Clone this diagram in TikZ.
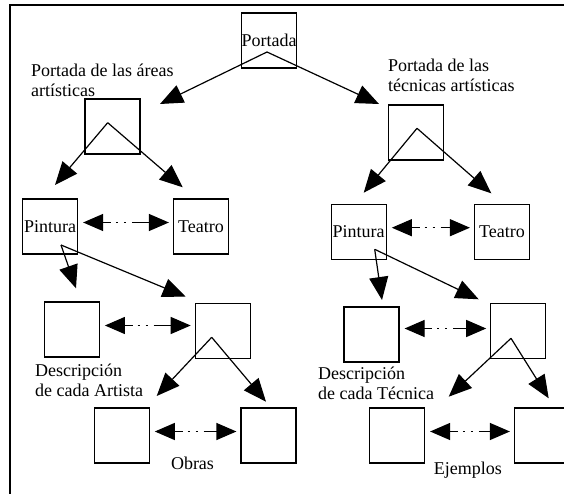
\documentclass[tikz,border=0pt]{standalone}
\usepackage{fontspec}
\setmainfont{Liberation Serif}
\usetikzlibrary{arrows.meta}

\begin{document}
\begin{tikzpicture}[x=1pt,y=-1pt,font=\fontsize{18}{20}\selectfont,
  caja/.style={draw,line width=1.2pt,minimum width=55pt,minimum height=55pt,inner sep=0pt},
  flecha/.style={line width=1.2pt,-{Triangle[length=23pt,width=19pt]}},
  ida/.style={line width=1.2pt,{Triangle[length=20pt,width=17pt]}-{Triangle[length=20pt,width=17pt]},
    dash pattern=on 8pt off 5pt on 2pt off 6pt on 2pt off 6pt on 40pt,shorten <=5pt,shorten >=4pt},
  rotulo/.style={align=left,anchor=north west,inner sep=0pt}]
\useasboundingbox (0,0) rectangle (564,494);
\draw[line width=2pt] (9.5,500) |- (570,5.5);

\node[caja] (portada)  at (269,40.5)    {Portada};
\node[caja] (areas)    at (112.5,126.5) {};
\node[caja] (tecnicas) at (415.7,132.5) {};
\node[caja] (pinturaA) at (50,226.5)    {Pintura};
\node[caja] (teatroA)  at (201,226.5)   {Teatro};
\node[caja] (pinturaT) at (358.7,231.7) {Pintura};
\node[caja] (teatroT)  at (502,231.7)   {Teatro};
\node[caja] (artista)  at (71.8,329.5)  {};
\node[caja] (obrasA)   at (222.8,331.2) {};
\node[caja] (tecnica)  at (371.5,334.5) {};
\node[caja] (ejemT)    at (518.3,331.2) {};
\node[caja] (obra1)    at (121.7,435.5) {};
\node[caja] (obra2)    at (268.5,435.5) {};
\node[caja] (ejem1)    at (397,435.5)   {};
\node[caja] (ejem2)    at (542,435.5)   {};

\node[rotulo] (txtAreas)   at (31,63.7)  {Portada de las áreas\\artísticas};
\node[rotulo] (txtTec)     at (388,58.4) {Portada de las\\técnicas artísticas};
\node[rotulo] (txtArtista) at (35,363.7) {Descripción\\de cada Artista};
\node[rotulo] (txtTecnica) at (318,367)  {Descripción\\de cada Técnica};
\node[anchor=base] (txtObras)    at (192.5,469.3) {Obras};
\node[anchor=base] (txtEjemplos) at (467.8,474.3) {Ejemplos};

\coordinate (vPortada) at (267,52);
\coordinate (pAreas)   at (160,104);
\coordinate (pTec)     at (379,104);
\coordinate (vAreas)   at (107.7,122.7);
\coordinate (pPintA)   at (55,185);
\coordinate (pTeatA)   at (182.7,187.3);
\coordinate (vTec)     at (417,128.3);
\coordinate (pPintT)   at (363.7,192.7);
\coordinate (pTeatT)   at (491.3,193.3);
\coordinate (vPintA)   at (61,245);
\coordinate (pArtista) at (76,288.3);
\coordinate (pObrasA)  at (185.7,296.7);
\coordinate (vPintT)   at (374.7,249.3);
\coordinate (pTecnica) at (382,300);
\coordinate (pEjemT)   at (478.7,299.3);
\coordinate (vObrasA)  at (211.7,337.3);
\coordinate (pObra1)   at (156.7,396);
\coordinate (pObra2)   at (266,401.7);
\coordinate (vEjemT)   at (511,338.3);
\coordinate (pEjem1)   at (448.7,396.7);
\coordinate (pEjem2)   at (548.7,398.3);

\draw[flecha] (vPortada) -- (pAreas);
\draw[flecha] (vPortada) -- (pTec);
\draw[flecha] (vAreas) -- (pPintA);
\draw[flecha] (vAreas) -- (pTeatA);
\draw[flecha] (vTec) -- (pPintT);
\draw[flecha] (vTec) -- (pTeatT);
\draw[flecha] (vPintA) -- (pArtista);
\draw[flecha] (vPintA) -- (pObrasA);
\draw[flecha] (vPintT) -- (pTecnica);
\draw[flecha] (vPintT) -- (pEjemT);
\draw[flecha] (vObrasA) -- (pObra1);
\draw[flecha] (vObrasA) -- (pObra2);
\draw[flecha] (vEjemT) -- (pEjem1);
\draw[flecha] (vEjemT) -- (pEjem2);

\draw[ida] ([yshift=4pt]pinturaA.east) -- ([yshift=4pt]pinturaA.east -| teatroA.west);
\draw[ida] ([yshift=4pt]pinturaT.east) -- ([yshift=4pt]pinturaT.east -| teatroT.west);
\draw[ida] ([yshift=4pt]artista.east) -- ([yshift=4pt]artista.east -| obrasA.west);
\draw[ida] ([yshift=6pt]tecnica.east) -- ([yshift=6pt]tecnica.east -| ejemT.west);
\draw[ida] ([yshift=4pt]obra1.east) -- ([yshift=4pt]obra1.east -| obra2.west);
\draw[ida] ([yshift=4pt]ejem1.east) -- ([yshift=4pt]ejem1.east -| ejem2.west);
\end{tikzpicture}
\end{document}
